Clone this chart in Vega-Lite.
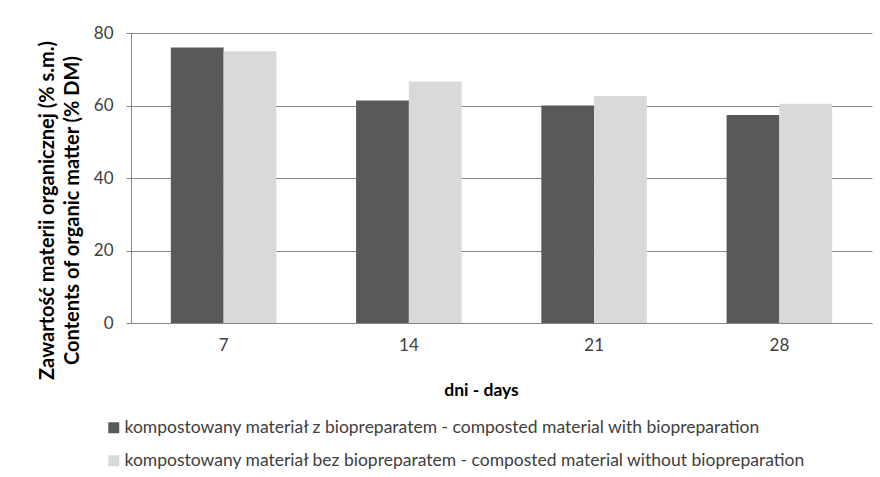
{
  "$schema": "https://vega.github.io/schema/vega-lite/v6.json",
  "width": 741,
  "height": 290,
  "autosize": {"type": "none"},
  "padding": {"left": 131, "top": 33, "right": 8, "bottom": 154},
  "background": "white",
  "config": {
    "font": "Lato",
    "view": {"stroke": null},
    "axis": {"labelFont": "Lato", "titleFont": "Lato"},
    "legend": {"labelFont": "Lato"}
  },
  "data": {
    "values": [
      {"day": "7", "series": "kompostowany materiał z biopreparatem - composted material with biopreparation", "value": 76.0},
      {"day": "7", "series": "kompostowany materiał bez biopreparatem - composted material without biopreparation", "value": 75.0},
      {"day": "14", "series": "kompostowany materiał z biopreparatem - composted material with biopreparation", "value": 61.4},
      {"day": "14", "series": "kompostowany materiał bez biopreparatem - composted material without biopreparation", "value": 66.6},
      {"day": "21", "series": "kompostowany materiał z biopreparatem - composted material with biopreparation", "value": 60.0},
      {"day": "21", "series": "kompostowany materiał bez biopreparatem - composted material without biopreparation", "value": 62.6},
      {"day": "28", "series": "kompostowany materiał z biopreparatem - composted material with biopreparation", "value": 57.4},
      {"day": "28", "series": "kompostowany materiał bez biopreparatem - composted material without biopreparation", "value": 60.5}
    ]
  },
  "mark": {"type": "bar"},
  "encoding": {
    "x": {
      "field": "day",
      "type": "ordinal",
      "sort": ["7", "14", "21", "28"],
      "scale": {"paddingInner": 0.43, "paddingOuter": 0.215},
      "axis": {
        "title": "dni - days",
        "labelAngle": 0,
        "ticks": false,
        "domainColor": "#868686",
        "domainWidth": 1,
        "labelPadding": 14,
        "labelFontSize": 17,
        "labelColor": "#404040",
        "titleFontSize": 17.5,
        "titleFontWeight": "bold",
        "titleColor": "#000000",
        "titleAlign": "center",
        "titleBaseline": "top",
        "titleX": 350,
        "titleY": 58
      }
    },
    "xOffset": {
      "field": "series",
      "sort": [
        "kompostowany materiał z biopreparatem - composted material with biopreparation",
        "kompostowany materiał bez biopreparatem - composted material without biopreparation"
      ]
    },
    "y": {
      "field": "value",
      "type": "quantitative",
      "scale": {"domain": [0, 80], "nice": false},
      "axis": {
        "values": [0, 20, 40, 60, 80],
        "title": ["Zawartość materii organicznej (% s.m.)", "Contents of organic matter (% DM)"],
        "grid": true,
        "gridColor": "#868686",
        "gridWidth": 1,
        "domainColor": "#868686",
        "tickColor": "#868686",
        "tickSize": 5,
        "labelPadding": 13,
        "labelFontSize": 17,
        "labelColor": "#404040",
        "titleFontSize": 20,
        "titleFontWeight": "bold",
        "titleColor": "#000000",
        "titleLineHeight": 25,
        "titleAngle": -90,
        "titleAlign": "center",
        "titleBaseline": "top",
        "titleX": -94,
        "titleY": 177
      }
    },
    "color": {
      "field": "series",
      "type": "nominal",
      "scale": {
        "domain": [
          "kompostowany materiał z biopreparatem - composted material with biopreparation",
          "kompostowany materiał bez biopreparatem - composted material without biopreparation"
        ],
        "range": ["#595959", "#D9D9D9"]
      },
      "legend": {
        "orient": "none",
        "legendX": -26,
        "legendY": 386,
        "title": null,
        "direction": "vertical",
        "padding": 0,
        "symbolType": "square",
        "symbolSize": 121,
        "symbolStrokeWidth": 0,
        "labelFontSize": 17.5,
        "labelColor": "#404040",
        "labelOffset": 2,
        "labelLimit": 0,
        "rowPadding": 14
      }
    }
  }
}
